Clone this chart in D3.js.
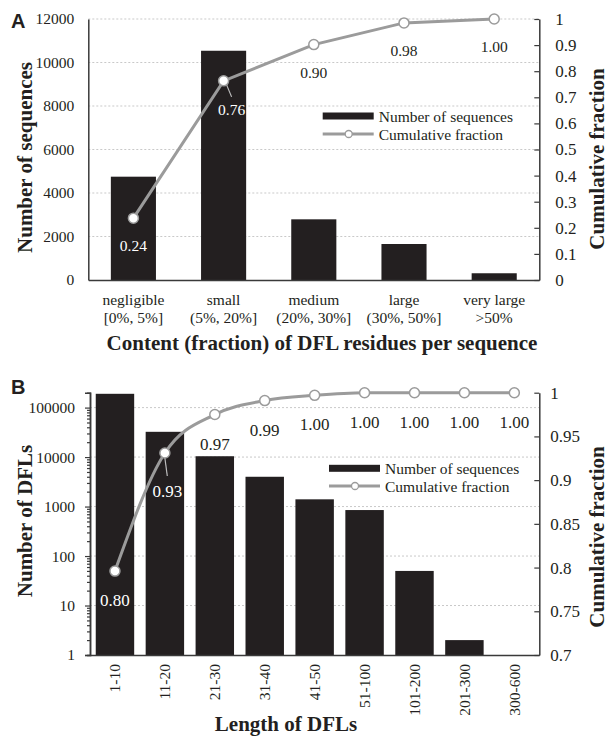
<!DOCTYPE html>
<html>
<head>
<meta charset="utf-8">
<script src="https://cdn.jsdelivr.net/npm/d3@7"></script>
<style>
body{margin:0;background:#fff}
text{font-family:"Liberation Serif","DejaVu Serif",serif !important;fill:#231f20}
text.panel{font-family:"Liberation Sans","DejaVu Sans",sans-serif !important}
</style>
</head>
<body>
<div id="container"></div>
<script>
// panel A data
const catsA = [["negligible","[0%, 5%]"],["small","(5%, 20%]"],["medium","(20%, 30%]"],["large","(30%, 50%]"],["very large",">50%"]]
const countsA = [4750,10540,2790,1655,310]
const cumA = [0.237,0.763,0.902,0.985,1.0]
const cumLabelsA = ["0.24","0.76","0.90","0.98","1.00"]
const leftTicksA = [0,2000,4000,6000,8000,10000,12000]
const rightTicksA = [0,0.1,0.2,0.3,0.4,0.5,0.6,0.7,0.8,0.9,1]

// panel B data
const catsB = ["1-10","11-20","21-30","31-40","41-50","51-100","101-200","201-300","300-600"]
const countsB = [190000,32400,10400,4000,1400,850,50,2,1]
const cumB = [0.796,0.931,0.975,0.991,0.997,1,1,1,1]
const cumLabelsB = ["0.80","0.93","0.97","0.99","1.00","1.00","1.00","1.00","1.00"]
const leftTicksB = [1,10,100,1000,10000,100000]
const rightTicksB = [0.7,0.75,0.8,0.85,0.9,0.95,1]

const barColor = "#231f20"
const lineColor = "#9b9b9b"
const axisColor = "#3a3a3a"

const svg = d3.select("#container").append("svg")
  .attr("width",610)
  .attr("height",737)

function styleAxis(g){
  g.select(".domain").attr("stroke",axisColor).attr("stroke-width",1.5)
  g.selectAll(".tick line").attr("stroke",axisColor).attr("stroke-width",1.2)
  g.selectAll("text").attr("fill",barColor)
}

function legend(g,x,y1,y2){
  g.append("rect").attr("x",x).attr("y",y1-3.5).attr("width",51).attr("height",7).attr("fill",barColor)
  g.append("text").attr("x",x+56).attr("y",y1).attr("dominant-baseline","central").attr("font-size",15.5).text("Number of sequences")
  g.append("line").attr("x1",x).attr("x2",x+51).attr("y1",y2).attr("y2",y2).attr("stroke",lineColor).attr("stroke-width",3)
  g.append("circle").attr("cx",x+26).attr("cy",y2).attr("r",3.5).attr("fill","#fff").attr("stroke",lineColor).attr("stroke-width",1.3)
  g.append("text").attr("x",x+56).attr("y",y2).attr("dominant-baseline","central").attr("font-size",15.5).text("Cumulative fraction")
}

function vTitle(x,y,txt){
  svg.append("text").attr("transform",`translate(${x},${y}) rotate(-90)`)
    .attr("text-anchor","middle").attr("dominant-baseline","central")
    .attr("font-size",21).attr("font-weight","bold").text(txt)
}

/* panel A */
const A = {l:88.3,r:539.3,t:19,b:280}
const xA = d3.scaleBand().domain(d3.range(catsA.length)).range([A.l,A.r]).paddingInner(0.5).paddingOuter(0.25)
const yA = d3.scaleLinear().domain([0,12000]).range([A.b,A.t])
const yRA = d3.scaleLinear().domain([0,1]).range([A.b,A.t])

svg.append("g").selectAll("line").data(leftTicksA.filter(d=>d>0)).enter().append("line")
  .attr("x1",A.l).attr("x2",A.r).attr("y1",d=>yA(d)).attr("y2",d=>yA(d))
  .attr("stroke","#c9c9c9").attr("stroke-dasharray","2,2")

svg.append("g").selectAll("rect").data(countsA).enter().append("rect")
  .attr("x",(_,i)=>xA(i)).attr("width",xA.bandwidth())
  .attr("y",d=>yA(d)).attr("height",d=>A.b-yA(d)).attr("fill",barColor)

svg.append("g").attr("transform",`translate(${A.l},0)`)
  .call(d3.axisLeft(yA).tickValues(leftTicksA).tickSize(0).tickPadding(14).tickFormat(d3.format("d")))
  .call(styleAxis).selectAll("text").attr("font-size",15.5)
svg.append("g").attr("transform",`translate(${A.r},0)`)
  .call(d3.axisRight(yRA).tickValues(rightTicksA).tickSizeInner(-5).tickSizeOuter(0).tickPadding(16).tickFormat(d=>String(d)))
  .call(styleAxis).selectAll("text").attr("font-size",17)
svg.append("g").attr("transform",`translate(0,${A.b})`)
  .call(d3.axisBottom(xA).tickSize(0).tickFormat(""))
  .call(styleAxis)

const catTextA = svg.append("g").selectAll("text").data(catsA).enter().append("text")
  .attr("text-anchor","middle").attr("font-size",15.5)
catTextA.append("tspan").attr("x",(_,i)=>xA(i)+xA.bandwidth()/2).attr("y",299.3).attr("dominant-baseline","central").text(d=>d[0])
catTextA.append("tspan").attr("x",(_,i)=>xA(i)+xA.bandwidth()/2).attr("y",317.3).attr("dominant-baseline","central").text(d=>d[1])

const lineA = d3.line().x((_,i)=>xA(i)+xA.bandwidth()/2).y(d=>yRA(d))
svg.append("path").datum(cumA).attr("d",lineA).attr("fill","none").attr("stroke",lineColor).attr("stroke-width",3)

// leader for 0.76
svg.append("line").attr("x1",xA(1)+xA.bandwidth()/2+3).attr("y1",yRA(cumA[1])+4)
  .attr("x2",xA(1)+xA.bandwidth()/2+8).attr("y2",yRA(cumA[1])+16).attr("stroke","#bdbdbd").attr("stroke-width",1.2)

svg.append("g").selectAll("circle").data(cumA).enter().append("circle")
  .attr("cx",(_,i)=>xA(i)+xA.bandwidth()/2).attr("cy",d=>yRA(d)).attr("r",5)
  .attr("fill","#fff").attr("stroke",lineColor).attr("stroke-width",1.5)

svg.append("g").selectAll("text").data(cumA).enter().append("text")
  .attr("x",(_,i)=>xA(i)+xA.bandwidth()/2+(i===1?8:0))
  .attr("y",(d,i)=>yRA(d)+(i===1?29:27.5))
  .attr("text-anchor","middle").attr("dominant-baseline","central").attr("font-size",15.5)
  .style("fill",(_,i)=>i<2?"#fff":barColor)
  .text((_,i)=>cumLabelsA[i])

legend(svg.append("g"),322.7,116,134)

svg.append("text").attr("x",322).attr("y",343.3).attr("text-anchor","middle").attr("dominant-baseline","central")
  .attr("font-size",21).attr("font-weight","bold").text("Content (fraction) of DFL residues per sequence")
vTitle(25,157.5,"Number of sequences")
vTitle(597,159,"Cumulative fraction")
svg.append("text").attr("class","panel").attr("x",11).attr("y",28)
  .attr("font-size",20).attr("font-weight","bold").text("A")

/* panel B */
const B = {l:90,r:539.3,t:392.7,b:655}
const xB = d3.scaleBand().domain(d3.range(catsB.length)).range([B.l,B.r]).paddingInner(0.23).paddingOuter(0.115)
const yB = d3.scaleLog().domain([1,200000]).range([B.b,B.t])
const yRB = d3.scaleLinear().domain([0.7,1]).range([B.b,B.t])

svg.append("g").selectAll("line").data(leftTicksB.filter(d=>d>1)).enter().append("line")
  .attr("x1",B.l).attr("x2",B.r).attr("y1",d=>yB(d)).attr("y2",d=>yB(d))
  .attr("stroke","#c9c9c9").attr("stroke-dasharray","2,2")

svg.append("g").selectAll("rect").data(countsB).enter().append("rect")
  .attr("x",(_,i)=>xB(i)).attr("width",xB.bandwidth())
  .attr("y",d=>yB(d)).attr("height",d=>B.b-yB(d)).attr("fill",barColor)

const minorB = []
leftTicksB.forEach(t=>{ for(let k=2;k<10;k++){ if(t*k<200000) minorB.push(t*k) } })
svg.append("g").attr("transform",`translate(${B.l},0)`)
  .call(d3.axisLeft(yB).tickValues(minorB).tickSize(3).tickFormat(""))
  .call(styleAxis)
svg.append("g").attr("transform",`translate(${B.l},0)`)
  .call(d3.axisLeft(yB).tickValues(leftTicksB).tickSize(5).tickPadding(10).tickFormat(d3.format("d")))
  .call(styleAxis).selectAll("text").attr("font-size",15.5)
svg.append("g").attr("transform",`translate(${B.r},0)`)
  .call(d3.axisRight(yRB).tickValues(rightTicksB).tickSizeInner(-5).tickSizeOuter(0).tickPadding(11).tickFormat(d=>String(d)))
  .call(styleAxis).selectAll("text").attr("font-size",17)
svg.append("g").attr("transform",`translate(0,${B.b})`)
  .call(d3.axisBottom(xB).tickSize(0).tickFormat(i=>catsB[i]))
  .call(styleAxis)
  .selectAll("text").attr("font-size",15.5)
  .attr("transform","rotate(-90)").attr("text-anchor","end")
  .attr("x",-9).attr("y",0).attr("dy","0.35em")

const lineB = d3.line().curve(d3.curveMonotoneX).x((_,i)=>xB(i)+xB.bandwidth()/2).y(d=>yRB(d))
svg.append("path").datum(cumB).attr("d",lineB).attr("fill","none").attr("stroke",lineColor).attr("stroke-width",3)

// leader for 0.93
svg.append("line").attr("x1",xB(1)+xB.bandwidth()/2).attr("y1",yRB(cumB[1])+5)
  .attr("x2",xB(1)+xB.bandwidth()/2+2.4).attr("y2",yRB(cumB[1])+23).attr("stroke","#bdbdbd").attr("stroke-width",1.2)

svg.append("g").selectAll("circle").data(cumB).enter().append("circle")
  .attr("cx",(_,i)=>xB(i)+xB.bandwidth()/2).attr("cy",d=>yRB(d)).attr("r",5)
  .attr("fill","#fff").attr("stroke",lineColor).attr("stroke-width",1.5)

svg.append("g").selectAll("text").data(cumB).enter().append("text")
  .attr("x",(_,i)=>xB(i)+xB.bandwidth()/2+(i===1?2.4:0))
  .attr("y",(d,i)=>yRB(d)+(i===1?38.4:29.5))
  .attr("text-anchor","middle").attr("dominant-baseline","central").attr("font-size",17)
  .style("fill",(_,i)=>i<2?"#fff":barColor)
  .text((_,i)=>cumLabelsB[i])

legend(svg.append("g"),329,468.3,486)

svg.append("text").attr("x",286).attr("y",724).attr("text-anchor","middle").attr("dominant-baseline","central")
  .attr("font-size",21).attr("font-weight","bold").text("Length of DFLs")
vTitle(25,521,"Number of DFLs")
vTitle(597,537,"Cumulative fraction")
svg.append("text").attr("class","panel").attr("x",11).attr("y",394)
  .attr("font-size",20).attr("font-weight","bold").text("B")
</script>
</body>
</html>
